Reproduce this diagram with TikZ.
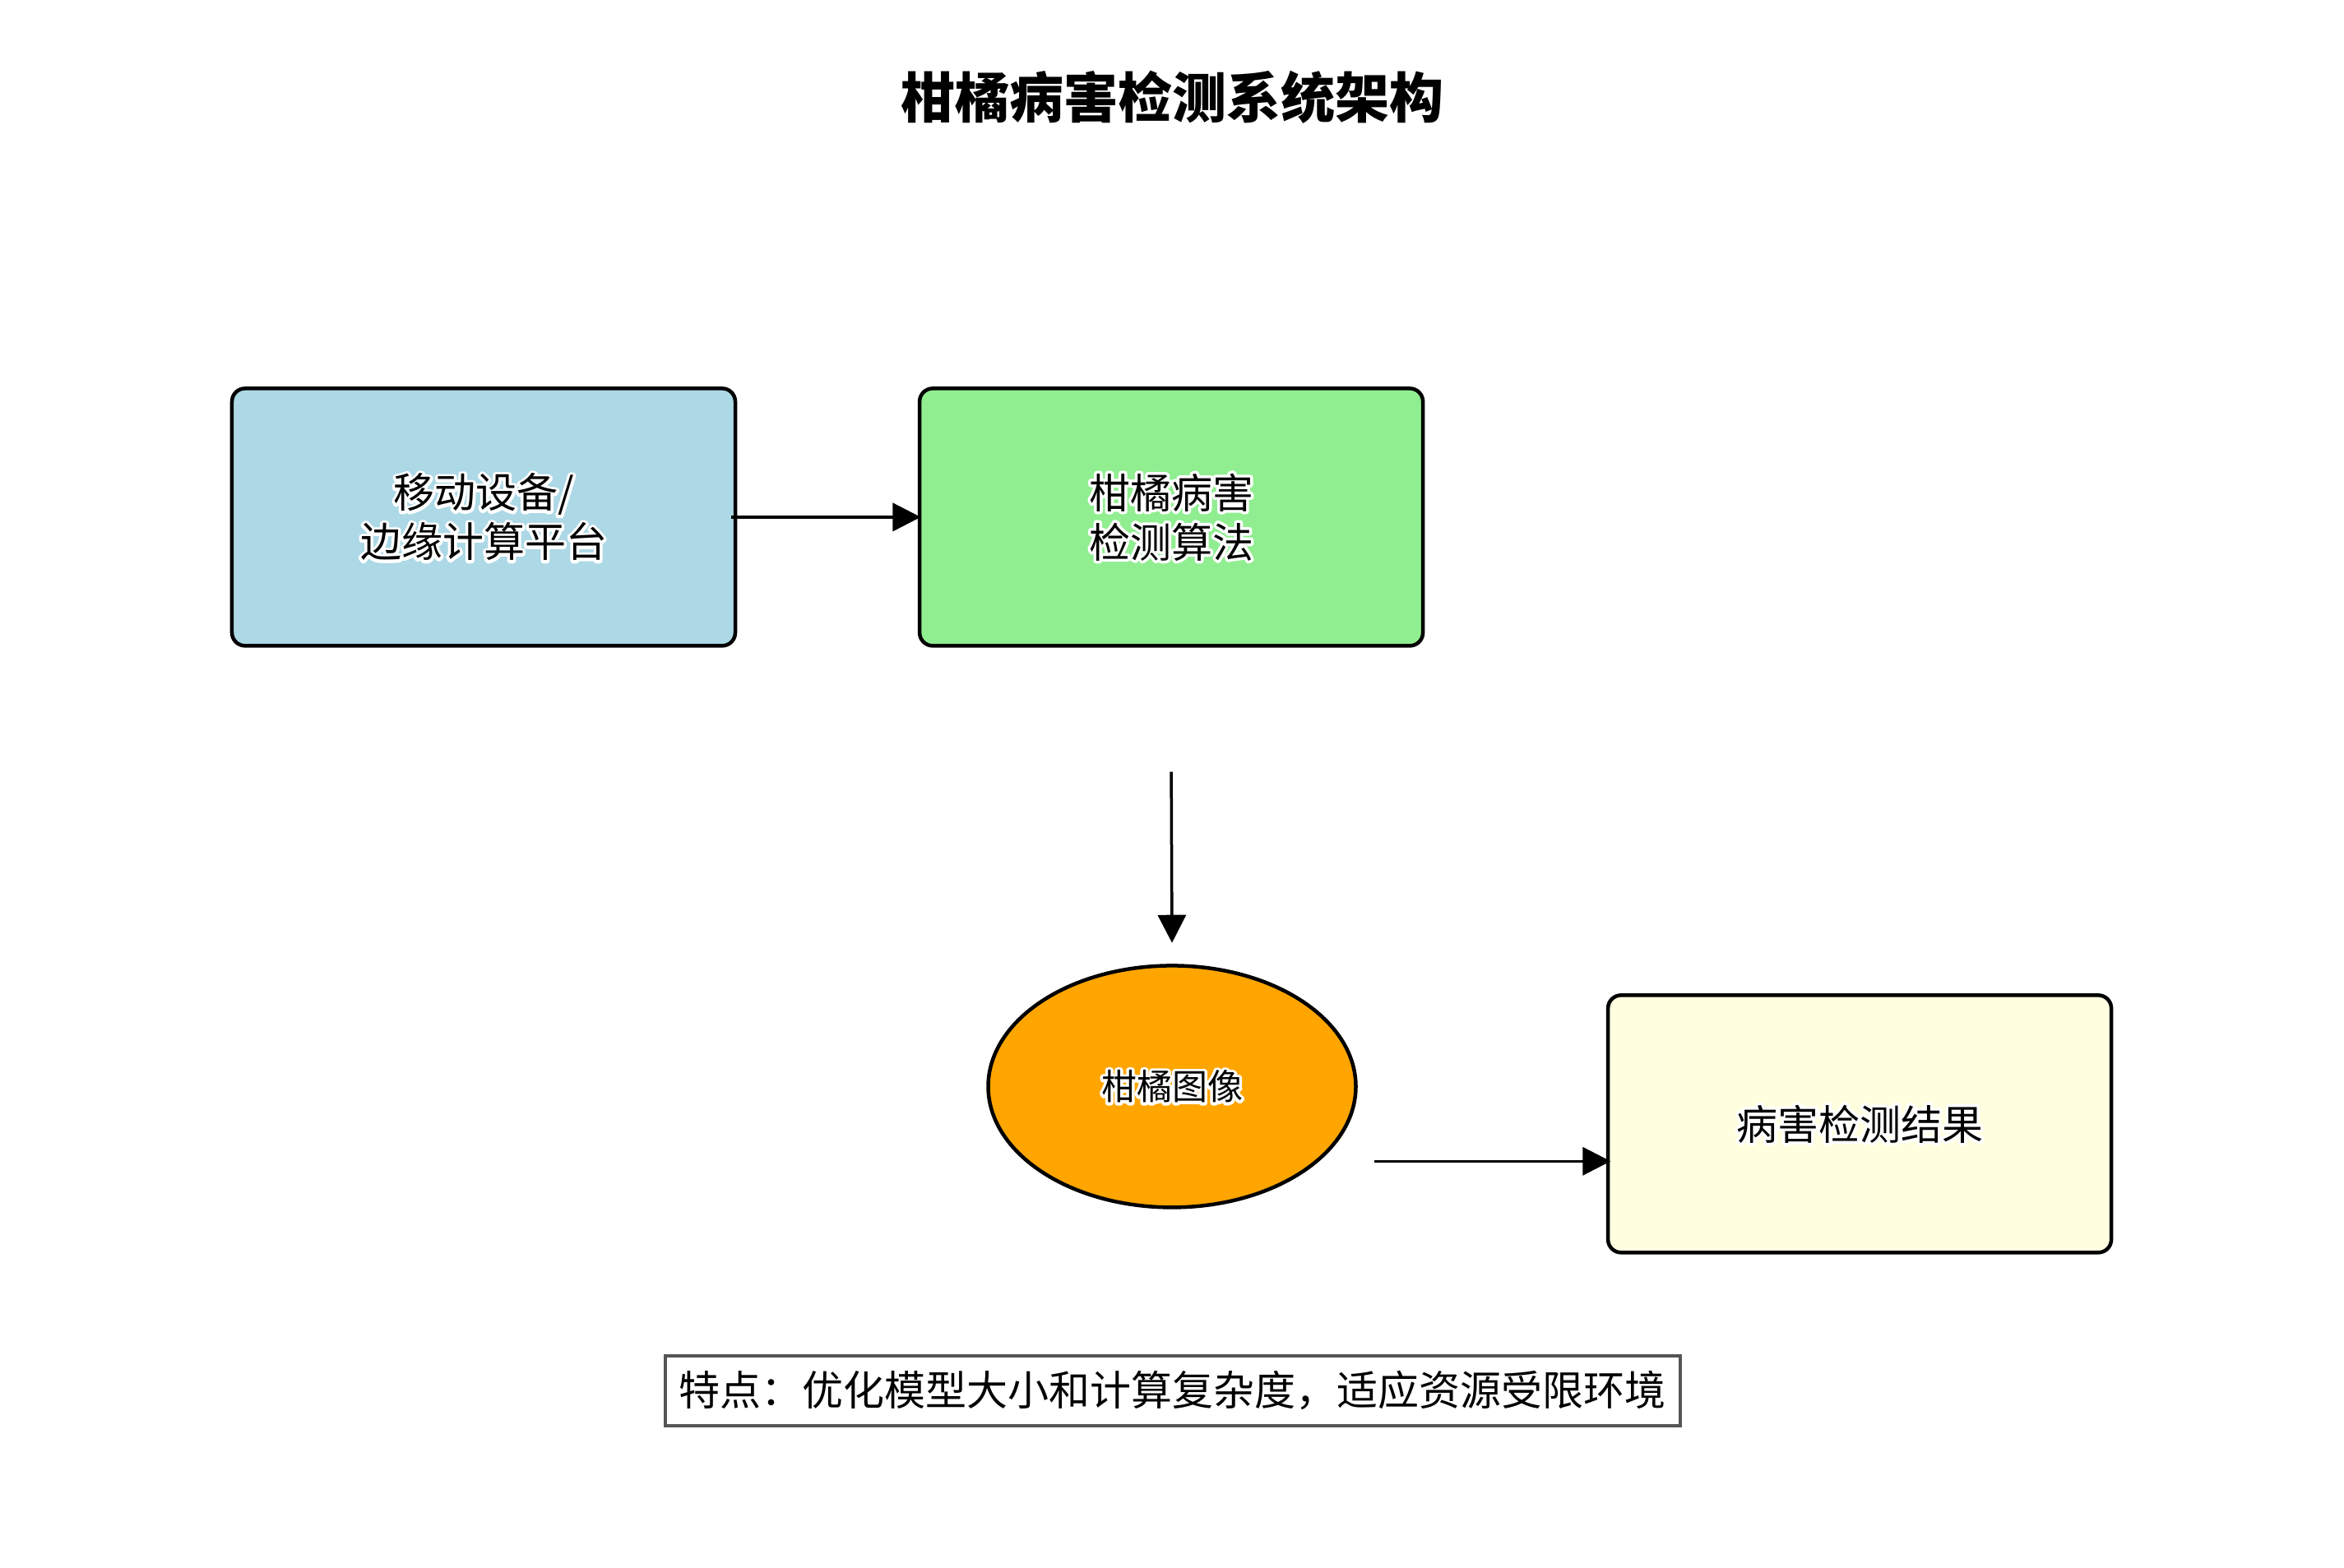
\documentclass[tikz,border=0pt]{standalone}
\usepackage{fontspec}
\setmainfont{Noto Sans CJK SC}
\usetikzlibrary{arrows.meta,calc,shapes.geometric}
\definecolor{cblue}{HTML}{ADD8E6}
\definecolor{cgreen}{HTML}{90EE90}
\definecolor{corange}{HTML}{FFA500}
\definecolor{cyellow}{HTML}{FFFFE0}
\definecolor{cgray}{HTML}{555555}
\tikzset{
  procbox/.style={draw=black, line width=4.5pt, rounded corners=16pt, minimum width=612pt, minimum height=313pt, align=center, font=\fontsize{50pt}{60pt}\selectfont},
  flow/.style={draw=black, line width=3.5pt, -{Triangle[length=34pt,width=34pt]}},
}
\newcommand{\halo}[1]{\leavevmode\rlap{\special{pdf:literal direct 1 Tr 7 w 1 j 1 1 1 RG}#1\special{pdf:literal direct 0 Tr 0 0 0 RG}}#1}
\begin{document}
\begin{tikzpicture}[x=1.8176pt,y=-1.8176pt]
\useasboundingbox (0,0) rectangle (1568,1049);
\node (title) at (784,65) {\fontsize{66pt}{70pt}\selectfont\bfseries 柑橘病害检测系统架构};
\node[procbox, fill=cblue] (b1) at (323.5,346) {\halo{移动设备/}\\\halo{边缘计算平台}};
\node[procbox, fill=cgreen] (b2) at (783.5,346) {\halo{柑橘病害}\\\halo{检测算法}};
\node[ellipse, draw=black, line width=4.5pt, fill=corange, minimum width=447pt, minimum height=294pt, inner sep=0pt, font=\fontsize{43pt}{50pt}\selectfont] (ell) at (784,727) {\halo{柑橘图像}};
\node[procbox, fill=cyellow] (b3) at (1244,752) {\halo{病害检测结果}};
\node[draw=cgray, line width=3.5pt, fill=white, minimum width=1234pt, minimum height=85pt, inner sep=0pt, font=\fontsize{50pt}{60pt}\selectfont] (note) at (784.5,930.5) {特点：优化模型大小和计算复杂度，适应资源受限环境};
\coordinate (a1s) at ($(b1.east)+(-4,0)$);
\coordinate (a1e) at ($(b2.west)+(2,0)$);
\coordinate (a2s) at ($(b2.south)+(0,83)$);
\coordinate (a2e) at ($(ell.north)+(0,-14)$);
\coordinate (a3s) at ($(ell.east)+(11,50)$);
\coordinate (a3e) at ($(b3.west)+(3,25)$);
\draw[flow] (a1s) -- (a1e);
\draw[flow] (a2s) -- (a2e);
\draw[flow] (a3s) -- (a3e);
\end{tikzpicture}
\end{document}
